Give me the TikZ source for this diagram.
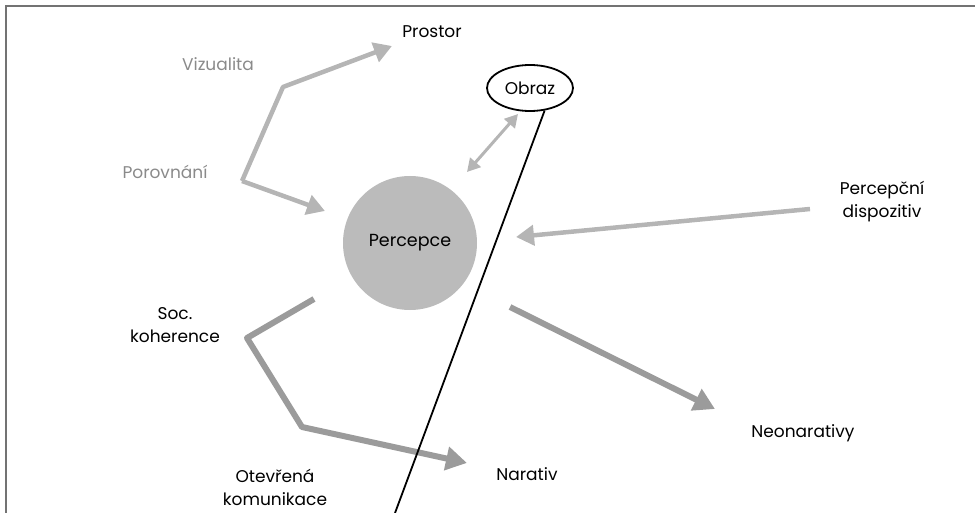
\documentclass[tikz,border=0pt]{standalone}
\usepackage{fontspec}
\setmainfont{Poppins}
\usetikzlibrary{arrows.meta,shapes.geometric}
\definecolor{lgray}{HTML}{B5B5B5}
\definecolor{dgray}{HTML}{9B9B9B}
\definecolor{tgray}{HTML}{8A8A8A}
\definecolor{fgray}{HTML}{BBBBBB}
\begin{document}
\begin{tikzpicture}[x=1pt,y=-1pt,
  lbl/.style={font=\fontsize{17}{23}\selectfont, text=black, align=center, inner sep=0pt},
  glbl/.style={lbl, text=tgray},
  larrow/.style={draw=lgray, line width=4.5pt, line join=round, -{Triangle[length=18pt,width=20pt]}},
  darrow/.style={draw=dgray, line width=6pt, line join=round, -{Triangle[length=21pt,width=23pt]}}]
\useasboundingbox (0,0) rectangle (975,513);
\draw[color=gray!90!black, line width=1.8pt] (6,513) -- (6,6) -- (975,6);
% central circle
\node[circle, fill=fgray, minimum size=134pt, inner sep=0pt, font=\fontsize{17.5}{20}\selectfont] (perc) at (410,243) {Percepce};
% Obraz ellipse
\node[ellipse, draw=black, line width=1.8pt, minimum width=86pt, minimum height=46pt, inner sep=0pt, lbl] (obraz) at (530,88) {Obraz};
% labels
\node[lbl] (prostor) at (432,32) {Prostor};
\node[glbl] (viz) at (218,64) {Vizualita};
\node[glbl] (por) at (165,172) {Porovnání};
\node[lbl] (disp) at (882,202) {Percepční\\dispozitiv};
\node[lbl] (soc) at (175,325) {Soc.\\koherence};
\node[lbl] (otev) at (275,487) {Otevřená\\komunikace};
\node[lbl] (nar) at (527,474) {Narativ};
\node[lbl] (neo) at (803,433) {Neonarativy};
% coordinates
\coordinate (pA) at (242,181);
\coordinate (pB) at (283,87);
\coordinate (pT) at (392,46);
\coordinate (pR) at (325,211);
\draw[larrow] (pA) -- (pB) -- (pT);
\draw[larrow] (pA) -- (pR);
\coordinate (dS) at (810,209);
\coordinate (dT) at (516,237);
\draw[larrow] (dS) -- (dT);
\coordinate (oA) at (467,172);
\coordinate (oB) at (518,114);
\draw[draw=lgray, line width=3pt, {Triangle[length=13pt,width=14pt]}-{Triangle[length=13pt,width=14pt]}] (oA) -- (oB);
\coordinate (nS) at (510,307);
\coordinate (nT) at (715,409);
\draw[darrow] (nS) -- (nT);
\coordinate (sA) at (314,299);
\coordinate (sB) at (247,338);
\coordinate (sC) at (302,427);
\coordinate (sT) at (467,463);
\draw[darrow] (sA) -- (sB) -- (sC) -- (sT);
% black line
\coordinate (lE) at (395,513);
\draw[black, line width=1.8pt] (obraz.-57) -- (lE);
\end{tikzpicture}
\end{document}
